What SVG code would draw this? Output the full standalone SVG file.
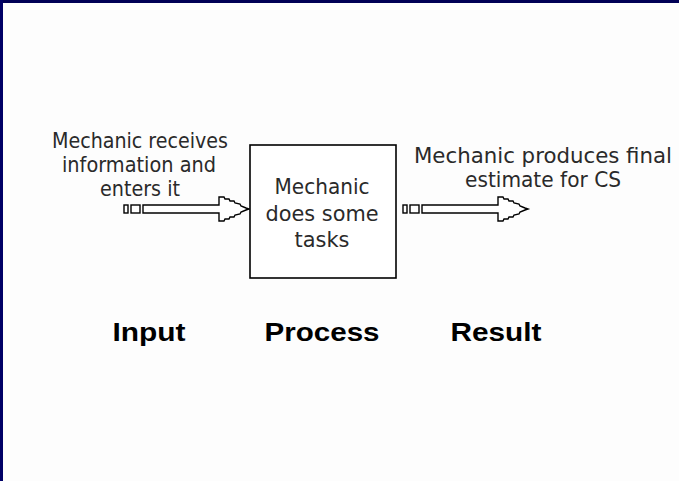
<svg xmlns="http://www.w3.org/2000/svg" width="679" height="481" viewBox="0 0 679 481">
  <style>
    .lbl { font-family: "DejaVu Sans", Verdana, sans-serif; font-size: 20.5px; fill: #2a2a2a; text-anchor: middle; }
    .stage { font-family: "Liberation Sans", Arial, sans-serif; font-weight: bold; font-size: 26px; fill: #000; text-anchor: middle; }
    .box { fill: #fff; stroke: #000; stroke-width: 1.6; }
    .arrow { fill: #fff; stroke: #000; stroke-width: 1.4; stroke-linejoin: miter; }
  </style>
  <defs>
    <!-- block arrow with two small lead squares, drawn from x=0 -->
    <g id="blockArrow">
      <rect class="arrow" x="0" y="-4" width="4" height="8"/>
      <rect class="arrow" x="7" y="-4" width="9" height="8"/>
      <path class="arrow" d="M19,-4 L95,-4 L95,-12 L100,-12 L101,-10 L105,-10 L106,-8 L110,-8 L111,-6 L116,-5 L117,-3 L122,-1 L125,0 L122,1 L117,3 L116,5 L111,6 L110,8 L106,8 L105,10 L101,10 L100,12 L95,12 L95,4 L19,4 Z"/>
    </g>
  </defs>

  <!-- page frame -->
  <rect x="0" y="0" width="679" height="481" fill="#fdfdfd"/>
  <rect x="0" y="0" width="679" height="3" fill="#000055"/>
  <rect x="0" y="0" width="3" height="481" fill="#000066"/>

  <g id="connectors">
    <use href="#blockArrow" transform="translate(124,209)"/>
    <use href="#blockArrow" transform="translate(403,209)"/>
  </g>

  <g id="input-label">
    <text class="lbl" x="140" y="148" textLength="176" lengthAdjust="spacingAndGlyphs">Mechanic receives</text>
    <text class="lbl" x="139" y="172" textLength="154" lengthAdjust="spacingAndGlyphs">information and</text>
    <text class="lbl" x="140" y="196" textLength="80" lengthAdjust="spacingAndGlyphs">enters it</text>
  </g>

  <g id="process">
    <rect class="box" x="250" y="145" width="146" height="133"/>
    <text class="lbl" x="322" y="194" textLength="95" lengthAdjust="spacingAndGlyphs">Mechanic</text>
    <text class="lbl" x="322" y="221" textLength="113" lengthAdjust="spacingAndGlyphs">does some</text>
    <text class="lbl" x="322" y="247" textLength="55" lengthAdjust="spacingAndGlyphs">tasks</text>
  </g>

  <g id="result-label">
    <text class="lbl" x="543" y="163" textLength="258" lengthAdjust="spacingAndGlyphs">Mechanic produces final</text>
    <text class="lbl" x="543" y="187" textLength="156" lengthAdjust="spacingAndGlyphs">estimate for CS</text>
  </g>

  <g id="stage-input">
    <text class="stage" x="149" y="341" textLength="73" lengthAdjust="spacingAndGlyphs">Input</text>
  </g>
  <g id="stage-process">
    <text class="stage" x="322" y="341" textLength="115" lengthAdjust="spacingAndGlyphs">Process</text>
  </g>
  <g id="stage-result">
    <text class="stage" x="496" y="341" textLength="91" lengthAdjust="spacingAndGlyphs">Result</text>
  </g>
</svg>
